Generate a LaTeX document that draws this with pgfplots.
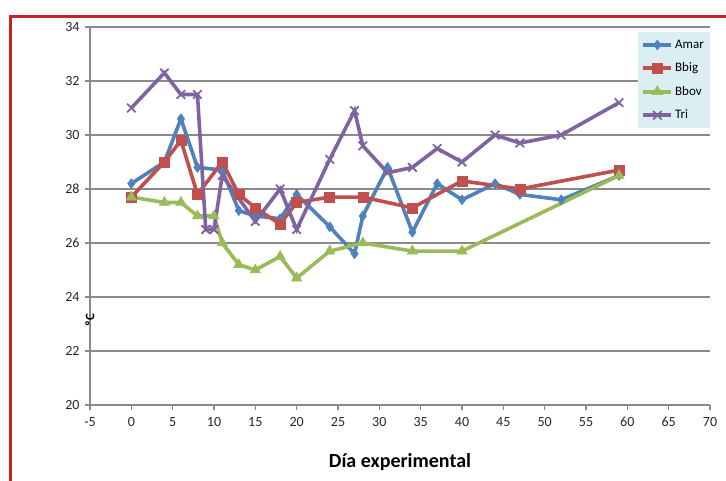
\documentclass[border=0pt]{standalone}
\usepackage{fontspec}
\setmainfont{Carlito}
\usepackage{pgfplots}
\pgfplotsset{compat=1.18}
\definecolor{amar}{HTML}{4F81BD}
\definecolor{bbig}{HTML}{C0504D}
\definecolor{bbov}{HTML}{9BBB59}
\definecolor{tri}{HTML}{8064A2}
\definecolor{gridgray}{HTML}{8A8A8A}
\definecolor{legbg}{HTML}{DAEEF3}
\definecolor{frame}{HTML}{C8202A}
\begin{document}
\begin{tikzpicture}
\useasboundingbox (0pt,0pt) rectangle (726pt,481pt);
\fill[white] (0pt,0pt) rectangle (726pt,481pt);
\draw[frame, line width=3pt] (10.5pt,-5pt) -- (10.5pt,464.5pt) -- (740pt,464.5pt);
\begin{axis}[
    at={(90pt,76pt)}, anchor=south west,
    scale only axis, width=620pt, height=378pt,
    xmin=-5, xmax=70, ymin=20, ymax=34,
    xtick={-5,0,5,10,15,20,25,30,35,40,45,50,55,60,65,70},
    xticklabels={-5,0,5,10,15,20,25,30,35,40,45,50,55,60,65,70},
    ytick={20,22,24,26,28,30,32,34},
    yticklabels={20,22,24,26,28,30,32,34},
    axis x line=bottom, axis y line=left,
    axis line style={-, gridgray, line width=1.8pt},
    ymajorgrids, grid style={gridgray, line width=1.8pt},
    tick align=outside, major tick length=5pt,
    tick style={gridgray, line width=1.2pt},
    ticklabel style={font=\fontsize{14}{14}\selectfont, text=black!85},
    xticklabel style={yshift=-4pt},
    yticklabel style={xshift=-2pt},
    xlabel={\textbf{Día experimental}},
    xlabel style={font=\fontsize{20}{20}\selectfont, at={(rel axis cs:0.5,0)}, anchor=center, yshift=-57pt},
    ylabel={\textbf{ºC}},
    ylabel style={font=\fontsize{13}{13}\selectfont, at={(rel axis cs:0,0.357)}, anchor=center, xshift=-50pt},
    legend style={at={(1,0.987)}, anchor=north east, fill=legbg, draw=none,
        font=\fontsize{13}{13}\selectfont, row sep=9pt, inner xsep=4pt, inner ysep=6pt,
        cells={anchor=west}},
    legend image code/.code={\draw[mark repeat=2, mark phase=2, #1] plot coordinates {(0pt,0pt) (14pt,0pt) (28pt,0pt)};},
]
\addplot[amar, line width=3.6pt, mark=diamond*, mark size=5pt, mark options={line width=0.5pt}] coordinates {
(0,28.2) (4,29.0) (6,30.6) (8,28.8) (11,28.7) (13,27.2) (15,27.0) (18,26.9) (20,27.8)
(24,26.6) (27,25.6) (28,27.0) (31,28.8) (34,26.4) (37,28.2) (40,27.6) (44,28.2)
(47,27.8) (52,27.6) (59,28.5)
};
\addplot[bbig, line width=3.6pt, mark=square*, mark size=5pt, mark options={line width=0.5pt}] coordinates {
(0,27.7) (4,29.0) (6,29.8) (8,27.8) (11,29.0) (13,27.8) (15,27.3) (18,26.7) (20,27.5)
(24,27.7) (28,27.7) (34,27.3) (40,28.3) (47,28.0) (59,28.7)
};
\addplot[bbov, line width=3.6pt, mark=triangle*, mark size=6pt, mark options={line width=0.5pt}] coordinates {
(0,27.7) (4,27.5) (6,27.5) (8,27.0) (10,27.0) (11,26.0) (13,25.2) (15,25.0) (18,25.5)
(20,24.7) (24,25.7) (28,26.0) (34,25.7) (40,25.7) (59,28.5)
};
\addplot[tri, line width=3.6pt, mark=x, mark size=6pt, mark options={line width=1.8pt}] coordinates {
(0,31.0) (4,32.3) (6,31.5) (8,31.5) (9,26.5) (10,26.5) (11,28.5) (15,26.8) (18,28.0)
(20,26.5) (24,29.1) (27,30.9) (28,29.6) (31,28.6) (34,28.8) (37,29.5) (40,29.0)
(44,30.0) (47,29.7) (52,30.0) (59,31.2)
};
\legend{Amar, Bbig, Bbov, Tri}
\end{axis}
\end{tikzpicture}
\end{document}
